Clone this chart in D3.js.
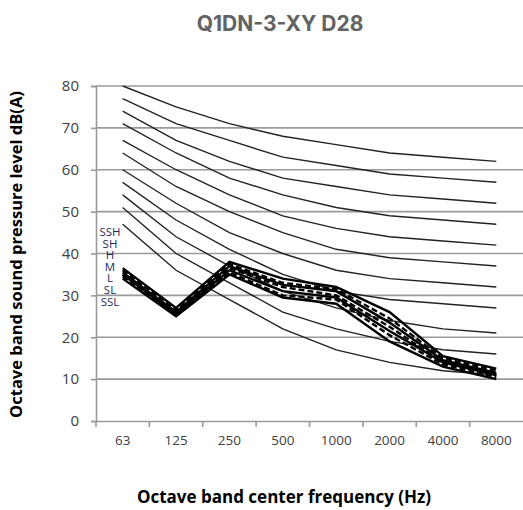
<!DOCTYPE html>
<html>
<head>
<meta charset="utf-8">
<script src="https://cdn.jsdelivr.net/npm/d3@7"></script>
<style>
  body { margin: 0; background: #fff; }
  svg { display: block; }
</style>
</head>
<body>
<div id="chart"></div>
<script>
// octave bands
const bands = ['63', '125', '250', '500', '1000', '2000', '4000', '8000'];

// NC reference curves (NC-15 .. NC-65)
const nc15 = [47, 36, 29, 22, 17, 14, 12, 11];
const nc20 = [51, 40, 33, 26, 22, 19, 17, 16];
const nc25 = [54, 44, 37, 31, 27, 24, 22, 21];
const nc30 = [57, 48, 41, 35, 31, 29, 28, 27];
const nc35 = [60, 52, 45, 40, 36, 34, 33, 32];
const nc40 = [64, 56, 50, 45, 41, 39, 38, 37];
const nc45 = [67, 60, 54, 49, 46, 44, 43, 42];
const nc50 = [71, 64, 58, 54, 51, 49, 48, 47];
const nc55 = [74, 67, 62, 58, 56, 54, 53, 52];
const nc60 = [77, 71, 67, 63, 61, 59, 58, 57];
const nc65 = [80, 75, 71, 68, 66, 64, 63, 62];
const ncCurves = [nc15, nc20, nc25, nc30, nc35, nc40, nc45, nc50, nc55, nc60, nc65];

// fan speed series
const speedNames = ['SSH', 'SH', 'H', 'M', 'L', 'SL', 'SSL'];
const ssh = [36.5, 27, 38, 34, 32, 26, 15.5, 12.5];
const sh  = [36, 26.5, 37.5, 33, 31.5, 24.5, 15, 12];
const h   = [35.5, 26, 37, 32.5, 31, 23.5, 14.5, 11.5];
const m   = [35, 26, 36.5, 32, 30, 22.5, 14, 11];
const l   = [35, 25.5, 36, 31, 29.5, 21.5, 14, 11];
const sl  = [34.5, 25.5, 35.5, 30, 29, 20.5, 13.5, 10.5];
const ssl = [34, 25, 35, 29.5, 28, 19, 13, 10];
const speeds = [ssh, sh, h, m, l, sl, ssl];

const yTicks = [0, 10, 20, 30, 40, 50, 60, 70, 80];

const width = 523, height = 510;
const margin = {top: 86, right: 0, bottom: 89, left: 96};
const innerWidth = width - margin.left - margin.right;
const innerHeight = height - margin.top - margin.bottom;

const svg = d3.select('#chart').append('svg')
    .attr('width', width)
    .attr('height', height);

svg.append('text')
    .attr('x', 280).attr('y', 31)
    .attr('text-anchor', 'middle')
    .style('font-family', 'Inter, "Open Sans", sans-serif')
    .style('font-weight', 700)
    .style('font-size', '21px')
    .style('fill', '#626262')
    .text('Q1DN-3-XY D28');

const g = svg.append('g').attr('transform', `translate(${margin.left},${margin.top})`);

const x = d3.scaleBand().domain(bands).range([0, innerWidth]);
const y = d3.scaleLinear().domain([0, 80]).range([innerHeight, 0]);

// gridlines
g.append('g')
    .selectAll('line')
    .data(yTicks.slice(1))
    .join('line')
      .attr('x1', 0).attr('x2', innerWidth)
      .attr('y1', d => y(d)).attr('y2', d => y(d))
      .attr('stroke', '#9a9a9a')
      .attr('stroke-width', 1.6);

// y axis
const yAxis = g.append('g')
    .call(d3.axisLeft(y).tickValues(yTicks).tickSize(5).tickPadding(12));
yAxis.select('.domain').attr('stroke', '#9a9a9a').attr('stroke-width', 1.6);
yAxis.selectAll('.tick line').attr('stroke', '#9a9a9a').attr('stroke-width', 1.6);
yAxis.selectAll('text')
    .style('font-family', '"Open Sans", sans-serif')
    .style('font-size', '15px')
    .style('fill', '#404040');

// x axis
const xAxis = g.append('g')
    .attr('transform', `translate(0,${innerHeight})`)
    .call(d3.axisBottom(x).tickSize(0).tickPadding(14));
xAxis.select('.domain').attr('stroke', '#9a9a9a').attr('stroke-width', 1.6);
xAxis.selectAll('text')
    .style('font-family', '"Open Sans", sans-serif')
    .style('font-size', '13.5px')
    .style('fill', '#404040');

// band boundary ticks
g.append('g')
    .selectAll('line')
    .data(bands)
    .join('line')
      .attr('x1', d => x(d)).attr('x2', d => x(d))
      .attr('y1', innerHeight).attr('y2', innerHeight + 6)
      .attr('stroke', '#9a9a9a')
      .attr('stroke-width', 1.6);

const line = d3.line()
    .x((d, i) => x(bands[i]) + x.bandwidth() / 2)
    .y(d => y(d));

// NC curves
g.append('g')
    .selectAll('path')
    .data(ncCurves)
    .join('path')
      .attr('d', line)
      .attr('fill', 'none')
      .attr('stroke', '#222')
      .attr('stroke-width', 1.4);

// speed series
g.append('g')
    .selectAll('path')
    .data(speeds)
    .join('path')
      .attr('d', line)
      .attr('fill', 'none')
      .attr('stroke', '#000')
      .attr('stroke-width', 2.4)
      .attr('stroke-dasharray', (d, i) => i % 2 ? '6,3' : null);

// series labels
g.append('g')
    .selectAll('text')
    .data(speedNames)
    .join('text')
      .attr('x', 14)
      .attr('y', (d, i) => y(44.2) + i * 11.6)
      .attr('text-anchor', 'middle')
      .style('font-family', '"Liberation Sans Narrow", "Open Sans", sans-serif')
      .style('font-size', '11.5px')
      .style('fill', '#1f2a5c')
      .text(d => d);

// axis titles
svg.append('text')
    .attr('transform', `translate(22,${margin.top + innerHeight / 2 + 1}) rotate(-90)`)
    .attr('text-anchor', 'middle')
    .style('font-family', '"Open Sans", sans-serif')
    .style('font-weight', 700)
    .style('font-size', '16.5px')
    .style('fill', '#000')
    .text('Octave band sound pressure level dB(A)');

svg.append('text')
    .attr('x', 284).attr('y', 503)
    .attr('text-anchor', 'middle')
    .style('font-family', '"Open Sans", sans-serif')
    .style('font-weight', 700)
    .style('font-size', '17px')
    .style('fill', '#000')
    .text('Octave band center frequency (Hz)');
</script>
</body>
</html>
